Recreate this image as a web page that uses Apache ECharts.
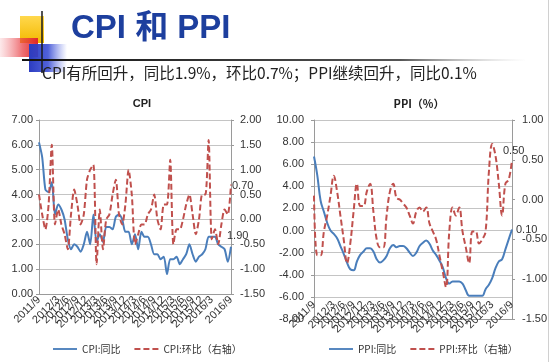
<!DOCTYPE html>
<html><head><meta charset="utf-8">
<script src="https://cdn.jsdelivr.net/npm/echarts@6/dist/echarts.min.js"></script>
<style>html,body{margin:0;padding:0;background:#fff}#c{width:550px;height:362px}</style>
</head><body><div id="c"></div><script>
const months = ['2011/9','2011/10','2011/11','2011/12',
'2012/1','2012/2','2012/3','2012/4','2012/5','2012/6','2012/7','2012/8','2012/9','2012/10','2012/11','2012/12',
'2013/1','2013/2','2013/3','2013/4','2013/5','2013/6','2013/7','2013/8','2013/9','2013/10','2013/11','2013/12',
'2014/1','2014/2','2014/3','2014/4','2014/5','2014/6','2014/7','2014/8','2014/9','2014/10','2014/11','2014/12',
'2015/1','2015/2','2015/3','2015/4','2015/5','2015/6','2015/7','2015/8','2015/9','2015/10','2015/11','2015/12',
'2016/1','2016/2','2016/3','2016/4','2016/5','2016/6','2016/7','2016/8','2016/9'];
const cpiYoY = [6.1,5.5,4.2,4.1,
4.5,3.2,3.6,3.4,3.0,2.2,1.8,2.0,1.9,1.7,2.0,2.5,
2.0,3.2,2.1,2.4,2.1,2.7,2.7,2.6,3.1,3.2,3.0,2.5,
2.5,2.0,2.4,1.8,2.5,2.3,2.3,2.0,1.6,1.6,1.4,1.5,
0.8,1.4,1.4,1.5,1.2,1.4,1.6,2.0,1.6,1.3,1.5,1.6,
1.8,2.3,2.3,2.3,2.0,1.9,1.8,1.3,1.9];
const cpiMoM = [0.5,0.1,-0.2,0.3,
1.5,-0.1,0.2,-0.1,-0.3,-0.6,0.1,0.6,0.3,-0.1,0.1,0.8,
1.0,1.1,-0.9,0.2,-0.6,0.0,0.1,0.5,0.8,0.1,-0.1,0.3,
1.0,0.5,-0.5,-0.3,-0.1,-0.1,0.1,0.2,0.5,0.0,-0.2,0.3,
0.3,1.2,-0.5,-0.2,-0.2,0.0,0.3,0.5,0.1,-0.3,0.0,0.5,
0.5,1.6,-0.4,-0.2,-0.5,-0.1,0.2,0.1,0.7];
const ppiYoY = [6.7,5.0,2.7,1.7,
0.7,0.0,-0.3,-0.7,-1.4,-2.1,-2.9,-3.5,-3.6,-2.8,-2.2,-1.9,
-1.6,-1.6,-1.9,-2.6,-2.9,-2.7,-2.3,-1.6,-1.3,-1.5,-1.4,-1.4,
-1.6,-2.0,-2.3,-2.0,-1.4,-1.1,-0.9,-1.2,-1.8,-2.2,-2.7,-3.3,
-4.3,-4.8,-4.6,-4.6,-4.6,-4.8,-5.4,-5.9,-5.9,-5.9,-5.9,-5.9,
-5.3,-4.9,-4.3,-3.4,-2.8,-2.6,-1.7,-0.8,0.1];
const ppiMoM = [0.05,-0.7,-0.7,-0.4,
-0.2,0.05,0.3,0.1,-0.2,-0.5,-0.8,-0.55,-0.15,0.2,-0.08,-0.08,
0.1,0.2,-0.15,-0.5,-0.6,-0.6,-0.2,0.1,0.2,0.02,0.0,-0.05,
-0.1,-0.2,-0.3,-0.15,-0.1,-0.15,-0.1,-0.3,-0.4,-0.5,-0.7,-0.9,
-1.1,-0.4,-0.1,-0.2,-0.1,-0.4,-0.6,-0.8,-0.4,-0.4,-0.55,-0.5,
-0.4,0.35,0.7,0.55,0.2,-0.2,0.2,0.25,0.5];

const numFont = 'Liberation Sans';
const cjkFont = 'Noto Sans CJK SC';
const BLUE = '#4a7ebb', RED = '#c0504d', GRID = '#c4c4c4', AXIS = '#9a9a9a';
const fmt2 = v => v.toFixed(2);
const SOLID_ICON = 'path://M0,0H26V2H0Z';
const DASH_ICON = 'path://M0,0H6V2H0Z M9,0H15V2H9Z M18,0H24V2H18Z';

function valAxis(gridIndex, min, max, interval, pos, split, margin) {
  return {
    type: 'value', gridIndex, min, max, interval, position: pos,
    axisLine: {show: true, lineStyle: {color: AXIS, width: 1}},
    axisTick: {show: true, length: 3, lineStyle: {color: AXIS}},
    splitLine: {show: split, lineStyle: {color: GRID, width: 1}},
    axisLabel: {formatter: fmt2, fontSize: 11, color: '#333', fontFamily: numFont, margin}
  };
}
function catAxis(gridIndex, margin) {
  return {
    type: 'category', gridIndex, data: months, boundaryGap: false,
    axisLine: {show: true, onZero: false, lineStyle: {color: AXIS}},
    axisTick: {show: false},
    axisLabel: {interval: (i) => i % 3 === 0, rotate: 45, fontSize: 11, color: '#333',
      fontFamily: numFont, margin, hideOverlap: false, showMinLabel: true, showMaxLabel: true}
  };
}
function lineSeries(name, data, xi, yi, color, dashed, smooth, endLab) {
  return {
    name, type: 'line', data, xAxisIndex: xi, yAxisIndex: yi,
    showSymbol: false, symbol: 'none', smooth,
    lineStyle: {color, width: 2, type: dashed ? [6, 3] : 'solid'},
    itemStyle: {color},
    endLabel: Object.assign({show: true, formatter: p => fmt2(p.value), fontSize: 11,
      color: '#333', fontFamily: numFont, distance: 0}, endLab),
    animation: false
  };
}
function legendCfg(names, left) {
  return {
    data: [{name: names[0], icon: SOLID_ICON}, {name: names[1], icon: DASH_ICON}],
    left, top: 339, itemWidth: 24, itemHeight: 2, itemGap: 14,
    textStyle: {fontSize: 10, color: '#333', fontFamily: cjkFont}
  };
}

const chart = echarts.init(document.getElementById('c'), null, {renderer: 'canvas'});
chart.setOption({
  backgroundColor: '#fff',
  animation: false,
  textStyle: {fontFamily: numFont},
  title: [
    {text: 'CPI', left: 137, top: 93, textAlign: 'center',
     textStyle: {fontSize: 11, fontWeight: 'bold', color: '#222', fontFamily: numFont}},
    {text: 'PPI（%）', left: 414, top: 93, textAlign: 'center',
     textStyle: {fontSize: 11, fontWeight: 'bold', color: '#222', fontFamily: cjkFont}}
  ],
  grid: [
    {left: 39, right: 319, top: 120, bottom: 68, containLabel: false, outerBoundsMode: 'none'},
    {left: 314, right: 38, top: 120, bottom: 43, containLabel: false, outerBoundsMode: 'none'}
  ],
  xAxis: [catAxis(0, 4), catAxis(1, -16)],
  yAxis: [
    valAxis(0, 0, 7, 1, 'left', true, 6),
    valAxis(0, -1.5, 2, 0.5, 'right', false, 9),
    valAxis(1, -8, 10, 2, 'left', true, 10),
    valAxis(1, -1.5, 1, 0.5, 'right', false, 10)
  ],
  legend: [
    legendCfg(['CPI:同比', 'CPI:环比（右轴）'], 48),
    legendCfg(['PPI:同比', 'PPI:环比（右轴）'], 324)
  ],
  series: [
    lineSeries('CPI:同比', cpiYoY, 0, 0, BLUE, false, 0.25, {offset: [-4, -11]}),
    lineSeries('CPI:环比（右轴）', cpiMoM, 0, 1, RED, true, 0.25, {offset: [1, 1]}),
    lineSeries('PPI:同比', ppiYoY, 1, 2, BLUE, false, 0.4, {offset: [4, 1]}),
    lineSeries('PPI:环比（右轴）', ppiMoM, 1, 3, RED, true, 0.4, {offset: [-9, -9]})
  ],
  graphic: [
    {type: 'rect', shape: {x: 20, y: 16, width: 24, height: 27}, z: 1,
     style: {fill: new echarts.graphic.LinearGradient(0, 0, 0, 1, [{offset: 0, color: '#ffd84d'}, {offset: 1, color: '#f3b900'}])}},
    {type: 'rect', shape: {x: 0, y: 38, width: 38, height: 19}, z: 2,
     style: {fill: new echarts.graphic.LinearGradient(0, 0, 1, 0, [{offset: 0, color: 'rgba(240,110,120,0.15)'}, {offset: 0.6, color: 'rgba(232,60,65,0.75)'}, {offset: 1, color: '#e0262b'}])}},
    {type: 'rect', shape: {x: 29, y: 44, width: 38, height: 28}, z: 3,
     style: {fill: new echarts.graphic.LinearGradient(0, 0, 1, 0, [{offset: 0, color: '#2b3cc0'}, {offset: 0.5, color: 'rgba(50,70,210,0.85)'}, {offset: 1, color: 'rgba(90,110,230,0)'}])}},
    {type: 'line', shape: {x1: 42, y1: 11, x2: 42, y2: 73}, z: 4, style: {stroke: '#1a1a1a', lineWidth: 1.5}},
    {type: 'line', shape: {x1: 22, y1: 60, x2: 525, y2: 60}, z: 4,
     style: {lineWidth: 2, stroke: new echarts.graphic.LinearGradient(0, 0, 1, 0, [{offset: 0, color: '#111'}, {offset: 0.75, color: '#555'}, {offset: 1, color: 'rgba(200,200,200,0)'}])}},
    {type: 'text', x: 71, y: 12, z: 5,
     style: {text: 'CPI 和 PPI', fill: '#1d3f9e', font: 'bold 33px "Liberation Sans", "Noto Sans CJK SC"'}},
    {type: 'text', x: 42, y: 65, z: 5,
     style: {text: 'CPI有所回升，同比1.9%，环比0.7%；PPI继续回升，同比0.1%', fill: '#222', font: '15.5px "Noto Sans CJK SC"'}},
    {type: 'line', shape: {x1: 548.5, y1: 0, x2: 548.5, y2: 362}, style: {stroke: '#d0d0d0', lineWidth: 1}}
  ]
});
</script></body></html>
